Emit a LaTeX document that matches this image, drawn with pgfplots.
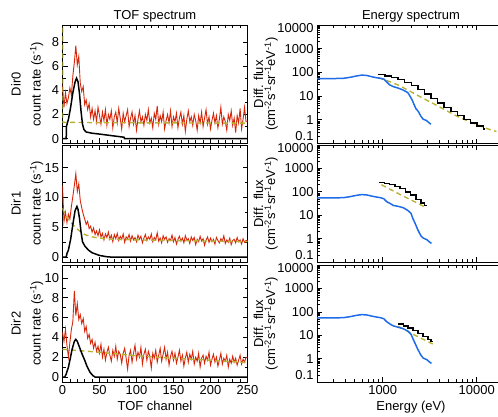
\documentclass[border=0pt]{standalone}
\usepackage{fontspec}
\setmainfont{Liberation Sans}
\usepackage{pgfplots}
\pgfplotsset{compat=1.18}

\definecolor{datared}{RGB}{214,38,10}
\definecolor{fitolive}{RGB}{184,178,52}
\definecolor{fluxblue}{RGB}{30,108,232}

\pgfplotsset{
  every axis/.append style={
    scale only axis,
    font=\fontsize{13}{15}\selectfont,
    tick label style={font=\fontsize{13}{15}\selectfont},
    /pgf/number format/assume math mode=true,
    axis line style={line width=0.7pt},
    tick style={black, line width=0.6pt},
    major tick length=5bp, minor tick length=3bp,
    anchor=south west,
    title style={yshift=-7bp},
  },
  tofax/.style={width=185bp, xmin=0, xmax=250,
    xtick={0,50,...,250}, minor x tick num=4, minor y tick num=1,
    ylabel style={align=center, at={(axis description cs:-0.19,0.5)}, anchor=center}},
  enax/.style={width=188bp,
    xmin=200, xmax=20000, ymin=0.1, ymax=10000,
    xtick={1000,10000},
    ytick={0.1,1,10,100,1000,10000},
    yticklabels={\raisebox{7bp}[\height][\depth]{0.1},1,10,100,1000,\raisebox{-3.5bp}[\height][\depth]{10000}},
    minor xtick={300,400,500,600,700,800,900,2000,3000,4000,5000,6000,7000,8000,9000},
    minor ytick={0.2,0.3,0.4,0.5,0.6,0.7,0.8,0.9,2,3,4,5,6,7,8,9,20,30,40,50,60,70,80,90,200,300,400,500,600,700,800,900,2000,3000,4000,5000,6000,7000,8000,9000},
    ylabel={Diff. flux\\(cm\textsuperscript{-2}s\textsuperscript{-1}sr\textsuperscript{-1}eV\textsuperscript{-1})},
    ylabel style={align=center, font=\fontsize{13}{12}\selectfont,
      at={(axis description cs:-0.272,0.5)}, anchor=center}},
  tofdata/.style={datared, line width=0.9pt},
  olv/.style={fitolive, line width=1.4pt, dash pattern=on 5bp off 3.5bp},
  blk/.style={black, line width=1.5pt},
  blu/.style={fluxblue, line width=1.5pt},
}

\begin{document}
\begin{tikzpicture}
\path[use as bounding box] (0,0) rectangle (498bp,417bp);

% ---------------- TOF spectra ----------------
\begin{axis}[tofax, at={(62.5bp,273.5bp)}, height=118.5bp,
  ymin=-0.4, ymax=9.4, ytick={0,2,4,6,8}, xticklabels={},
  title={TOF spectrum}, ylabel={Dir0\\[5pt]count rate (s\textsuperscript{-1})}]
\addplot[tofdata] coordinates {
(0,4.4)(2,2.6)(4,3.8)(6,2.9)(8,3.4)(10,4.2)(12,3.6)(14,5.2)(16,6.3)(18,7.7)(20,6.1)(22,6.8)(24,4.6)(26,3.9)(28,4.3)(30,2.8)(32,3.2)(34,2.4)(36,2.9)(38,1.8)(40,2.5)(42,1.6)(44,2.3)(46,1.4)(48,2.6)(50,1.9)(52,1.2)(54,2.2)(56,1.5)(58,2.4)(60,1.1)(62,2.0)(64,1.6)(66,2.3)(68,0.9)(70,1.8)(72,2.2)(74,1.3)(76,2.5)(78,1.7)(80,0.8)(82,2.1)(84,1.4)(86,1.9)(88,2.4)(90,1.0)(92,1.7)(94,2.2)(96,1.2)(98,1.9)(100,0.7)(102,1.6)(104,2.3)(106,1.4)(108,1.8)(110,1.1)(112,2.0)(114,1.5)(116,2.4)(118,1.3)(120,1.7)(122,0.9)(124,2.1)(126,1.6)(128,2.7)(130,1.2)(132,1.9)(134,1.4)(136,2.2)(138,0.8)(140,1.5)(142,2.0)(144,1.3)(146,2.3)(148,1.0)(150,1.8)(152,1.4)(154,2.1)(156,0.9)(158,1.7)(160,2.2)(162,1.2)(164,1.9)(166,0.6)(168,1.6)(170,2.3)(172,1.4)(174,1.8)(176,1.1)(178,2.0)(180,1.5)(182,0.7)(184,1.9)(186,1.3)(188,2.2)(190,1.0)(192,1.7)(194,2.4)(196,1.2)(198,1.8)(200,0.8)(202,1.5)(204,2.1)(206,1.3)(208,1.9)(210,0.9)(212,1.6)(214,2.6)(216,1.2)(218,1.8)(220,1.4)(222,0.7)(224,2.0)(226,1.5)(228,2.3)(230,1.1)(232,1.7)(234,0.5)(236,1.9)(238,1.3)(240,2.5)(242,0.8)(244,1.6)(246,2.6)(248,1.4)(250,1.4)};
\addplot[olv] coordinates {(0,12)(0.4,1.35)(60,1.32)(250,1.28)};
\addplot[blk] coordinates {(0,0)(5,0)(5.3,1.0)(8,1.6)(11,2.6)(14,3.8)(17,4.7)(19,5.0)(21,4.7)(23,3.7)(25,2.3)(27,1.2)(29,0.75)(32,0.55)(40,0.45)(50,0.38)(60,0.3)(70,0.22)(83,0.12)(84,0)(250,0)};
\end{axis}

\begin{axis}[tofax, at={(62.5bp,155bp)}, height=117bp,
  ymin=-0.8, ymax=18.8, ytick={0,5,10,15}, xticklabels={},
  ylabel={Dir1\\[5pt]count rate (s\textsuperscript{-1})}]
\addplot[tofdata] coordinates {
(0,12.0)(2,6.0)(4,7.5)(6,5.8)(8,7.2)(10,6.4)(12,8.5)(14,10.2)(16,12.0)(18,14.0)(20,11.0)(22,12.3)(24,9.5)(26,8.3)(28,7.2)(30,6.4)(32,5.5)(34,6.0)(36,4.8)(38,5.2)(40,4.2)(42,4.9)(44,3.8)(46,4.4)(48,3.6)(50,4.6)(52,3.4)(54,4.0)(56,2.9)(58,3.9)(60,3.3)(62,4.2)(64,3.0)(66,3.7)(68,2.6)(70,3.8)(72,3.1)(74,4.0)(76,2.8)(78,3.5)(80,3.0)(82,3.9)(84,2.5)(86,3.4)(88,3.1)(90,3.8)(92,2.7)(94,3.6)(96,2.9)(98,3.3)(100,2.6)(102,3.7)(104,3.0)(106,3.5)(108,2.4)(110,3.2)(112,3.8)(114,2.8)(116,3.4)(118,3.0)(120,3.9)(122,2.6)(124,3.3)(126,2.9)(128,4.1)(130,2.7)(132,3.2)(134,2.4)(136,3.6)(138,3.0)(140,3.4)(142,2.5)(144,3.1)(146,2.8)(148,3.7)(150,2.6)(152,3.3)(154,2.2)(156,3.0)(158,3.5)(160,2.7)(162,3.2)(164,2.4)(166,3.6)(168,2.9)(170,3.1)(172,2.3)(174,3.4)(176,2.8)(178,3.3)(180,2.1)(182,3.0)(184,2.6)(186,3.5)(188,2.7)(190,3.1)(192,2.0)(194,2.9)(196,3.4)(198,2.5)(200,3.2)(202,2.6)(204,3.0)(206,2.2)(208,3.3)(210,2.8)(212,2.4)(214,3.1)(216,2.7)(218,3.6)(220,2.3)(222,2.9)(224,2.5)(226,3.2)(228,2.1)(230,2.8)(232,3.0)(234,2.4)(236,3.3)(238,2.6)(240,2.9)(242,2.2)(244,3.1)(246,2.5)(248,2.8)(250,2.8)};
\addplot[olv] coordinates {(0,8.2)(5,6.8)(10,6.0)(15,5.3)(20,4.7)(25,4.2)(30,3.8)(40,3.4)(50,3.2)(70,3.0)(100,2.9)(150,2.8)(200,2.7)(250,2.6)};
\addplot[blk] coordinates {(0,0)(5,0)(6,0.6)(8,1.2)(11,3.0)(14,5.5)(17,7.8)(19.5,8.5)(21,8.0)(23,6.5)(25,4.3)(27,2.6)(30,1.9)(35,1.2)(40,0.75)(50,0.3)(60,0.08)(68,0)(250,0)};
\end{axis}

\begin{axis}[tofax, at={(62.5bp,35bp)}, height=117bp,
  ymin=-0.5, ymax=11.3, ytick={0,2,4,6,8,10},
  xlabel={TOF channel}, ylabel={Dir2\\[5pt]count rate (s\textsuperscript{-1})}]
\addplot[tofdata] coordinates {
(0,4.5)(2,3.6)(4,4.8)(6,3.2)(8,2.0)(10,3.5)(12,4.8)(14,5.6)(16,8.7)(18,6.2)(20,7.4)(22,5.8)(24,6.3)(26,5.4)(28,5.9)(30,4.6)(32,5.1)(34,3.9)(36,4.3)(38,3.4)(40,3.8)(42,2.9)(44,3.5)(46,2.6)(48,3.1)(50,2.4)(52,3.3)(54,2.0)(56,2.8)(58,1.7)(60,2.5)(62,3.0)(64,2.2)(66,1.6)(68,2.7)(70,2.1)(72,3.1)(74,1.8)(76,2.6)(78,2.3)(80,1.4)(82,2.4)(84,2.9)(86,1.9)(88,0.8)(90,2.2)(92,2.7)(94,1.5)(96,2.4)(98,3.2)(100,1.8)(102,2.5)(104,2.0)(106,3.0)(108,1.3)(110,2.3)(112,2.8)(114,1.7)(116,2.6)(118,2.1)(120,0.9)(122,2.4)(124,1.9)(126,2.7)(128,1.5)(130,2.2)(132,2.9)(134,1.6)(136,2.3)(138,3.0)(140,1.8)(142,2.5)(144,1.2)(146,2.1)(148,2.6)(150,1.7)(152,2.4)(154,1.4)(156,2.0)(158,2.7)(160,1.6)(162,2.2)(164,1.1)(166,1.9)(168,2.5)(170,1.5)(172,2.3)(174,1.8)(176,2.6)(178,1.3)(180,2.0)(182,1.6)(184,2.4)(186,1.0)(188,1.9)(190,2.2)(192,1.4)(194,2.1)(196,1.7)(198,2.5)(200,1.2)(202,1.8)(204,2.3)(206,1.5)(208,2.0)(210,1.1)(212,1.7)(214,2.4)(216,1.3)(218,1.9)(220,1.6)(222,2.2)(224,1.0)(226,1.8)(228,1.4)(230,2.1)(232,1.5)(234,1.9)(236,1.2)(238,1.7)(240,2.2)(242,1.3)(244,1.8)(246,1.5)(248,2.0)(250,2.0)};
\addplot[olv] coordinates {(0,2.8)(50,2.5)(100,2.15)(150,1.9)(200,1.7)(250,1.45)};
\addplot[blk] coordinates {(0,0)(3,0)(5,0.3)(8,1.0)(10,1.7)(13,2.8)(16,3.6)(18,3.8)(20,3.6)(23,3.0)(26,2.4)(30,1.7)(33,1.1)(37,0.5)(41,0.15)(44,0)(250,0)};
\end{axis}

% ---------------- Energy spectra ----------------
\begin{loglogaxis}[enax, at={(317bp,273.5bp)}, height=118.5bp,
  xticklabels={}, title={Energy spectrum}]
\addplot[olv] coordinates {(900,60)(1200,40)(1500,28)(1950,16)(2700,8)(3740,4.1)(5000,2.2)(6100,1.45)(8000,0.9)(10000,0.62)(13000,0.42)(16200,0.32)};
\addplot[blk, const plot] coordinates {(900,80)(1058,72)(1243,62)(1460,50)(1715,38)(2015,28)(2368,19)(2782,12.5)(3269,8)(3841,5)(4513,3.3)(5303,2.2)(6231,1.5)(7321,1.05)(8602,0.75)(10107,0.55)(11876,0.4)(12400,0.4)};
\addplot[blu] coordinates {(200,55)(300,55)(380,56)(450,62)(520,70)(600,77)(680,74)(760,66)(850,60)(950,56)(1030,52)(1100,40)(1180,30)(1300,25)(1450,22)(1650,18)(1850,14)(1950,10)(2050,7)(2150,4.5)(2250,3)(2400,2.2)(2550,1.4)(2700,1.05)(2900,0.95)(3050,0.8)(3250,0.65)};
\end{loglogaxis}

\begin{loglogaxis}[enax, at={(317bp,155bp)}, height=117bp, xticklabels={}]
\addplot[olv] coordinates {(970,200)(1500,80)(2200,37)(2930,20.7)};
\addplot[blk, const plot] coordinates {(918,250)(1044,228)(1187,200)(1350,170)(1535,135)(1745,100)(1984,72)(2256,48)(2565,33)(2800,26)(2930,26)};
\addplot[blu] coordinates {(200,55)(300,55)(380,56)(450,62)(520,70)(600,76)(680,73)(760,66)(850,60)(950,56)(1030,50)(1100,38)(1196,32)(1300,26)(1450,24)(1650,21)(1850,16)(2000,12)(2100,7)(2210,4.5)(2350,2.5)(2550,1.3)(2700,1.05)(2950,0.9)(3100,0.75)(3300,0.62)};
\end{loglogaxis}

\begin{loglogaxis}[enax, at={(317bp,35bp)}, height=117bp,
  xticklabels={1000,10000}, xlabel={Energy (eV)}]
\addplot[olv] coordinates {(1466,24)(2200,10)(3400,4.2)};
\addplot[blk, const plot] coordinates {(1466,30)(1654,25)(1866,20)(2105,15.5)(2374,12)(2678,9)(3021,6.5)(3250,5.5)(3400,5.5)};
\addplot[blu] coordinates {(200,55)(300,55)(380,56)(450,62)(520,70)(600,76)(680,73)(760,66)(850,60)(950,56)(1030,50)(1100,38)(1196,30)(1300,25)(1450,22)(1650,19)(1850,15)(2000,11)(2100,7)(2210,4.5)(2350,2.6)(2550,1.4)(2700,1.05)(2950,0.9)(3100,0.75)(3300,0.62)};
\end{loglogaxis}
\end{tikzpicture}
\end{document}
